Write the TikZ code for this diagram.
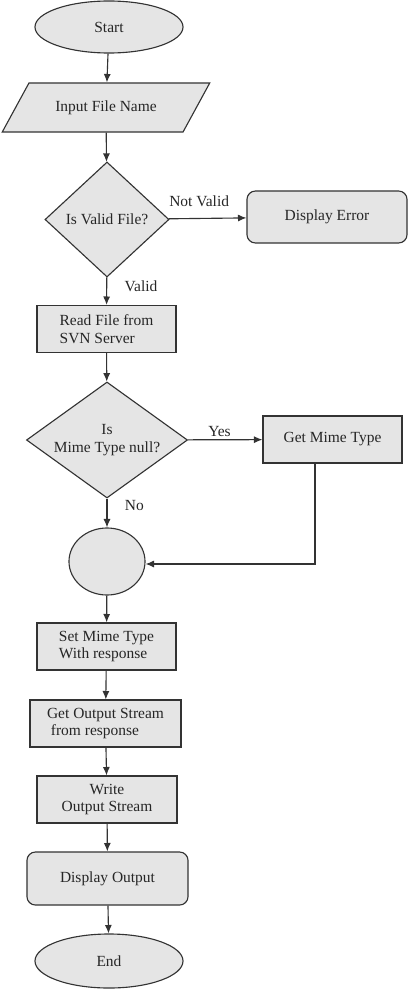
\documentclass[tikz,border=0pt]{standalone}
\usepackage{fontspec}
\setmainfont{Liberation Serif}
\usetikzlibrary{shapes.geometric, arrows.meta}
\begin{document}
\begin{tikzpicture}[x=0.025cm, y=-0.025cm,
    font=\fontsize{11}{12.5}\selectfont, text=black!85,
    every node/.append style={inner sep=1pt},
    shape base/.style={draw=black!80, line width=0.8pt, fill=black!10},
    terminal/.style={shape base, ellipse, minimum width=3.7cm, minimum height=1.3cm},
    inputbox/.style={shape base, trapezium, trapezium stretches=true, trapezium left angle=43, trapezium right angle=137, minimum width=5.2cm, minimum height=1.225cm},
    decision/.style={shape base, diamond, inner sep=0pt, aspect=1.6, minimum width=#1},
    process/.style={shape base, rectangle, minimum width=3.475cm, minimum height=1.175cm},
    outputbox/.style={shape base, rectangle, rounded corners=6pt, minimum height=1.3cm},
    connector/.style={shape base, ellipse, minimum width=1.9cm, minimum height=1.675cm},
    flow/.style={-{Latex[length=6pt, width=5pt]}, draw=black!80, line width=0.8pt}]
    \useasboundingbox (0,0) rectangle (408,991);

    %shapes
    \node[terminal] (start) at (109,27) {Start};
    \node[inputbox] (input) at (106,107.5) {Input File Name};
    \node[decision=3.1cm, minimum height=2.875cm] (valid) at (107,219.5) {Is Valid File?};
    \node[outputbox, minimum width=4cm] (error) at (327,217) {Display Error};
    \node[process, align=left] (read) at (106.5,329) {Read File from\\ SVN Server};
    \node[decision=4.025cm, minimum height=2.9cm, align=center] (mime) at (107,440) {Is\\Mime Type null?};
    \node[process] (getmime) at (332.5,439.5) {Get Mime Type};
    \node[connector] (join) at (107,561.5) {};
    \node[process, align=left] (setmime) at (106.5,646.5) {Set Mime Type\\With response};
    \node[process, minimum width=3.775cm, align=left] (stream) at (105.5,723.5) {Get Output Stream\\ \ from response};
    \node[process, minimum width=3.5cm, align=center] (write) at (107,799.5) {Write\\Output Stream};
    \node[outputbox, minimum width=4.025cm, minimum height=1.325cm] (display) at (107.5,878.5) {Display Output};
    \node[terminal, minimum height=1.35cm] (end) at (109,961) {End};
    \coordinate (bend) at (315,564);

    %arrows
    \draw[flow] (start) -- (input);
    \draw[flow] (input) -- (valid);
    \draw[flow] (valid) -- node[above, yshift=7pt, xshift=-6pt] {Not Valid} (error);
    \draw[flow] (valid) -- node[pos=0.32, right=0.4cm] {Valid} (read);
    \draw[flow] (read) -- (mime);
    \draw[flow] (mime) -- node[above, yshift=1pt, xshift=-4pt] {Yes} (getmime);
    \draw[flow] (mime) -- node[pos=0.25, right=0.4cm] {No} (join);
    \draw[flow] (getmime.south -| bend) -- (bend) -- (join.east |- bend);
    \draw[flow] (join) -- (setmime);
    \draw[flow] (setmime) -- (stream);
    \draw[flow] (stream) -- (write);
    \draw[flow] (write) -- (display);
    \draw[flow] (display) -- (end);
\end{tikzpicture}
\end{document}
